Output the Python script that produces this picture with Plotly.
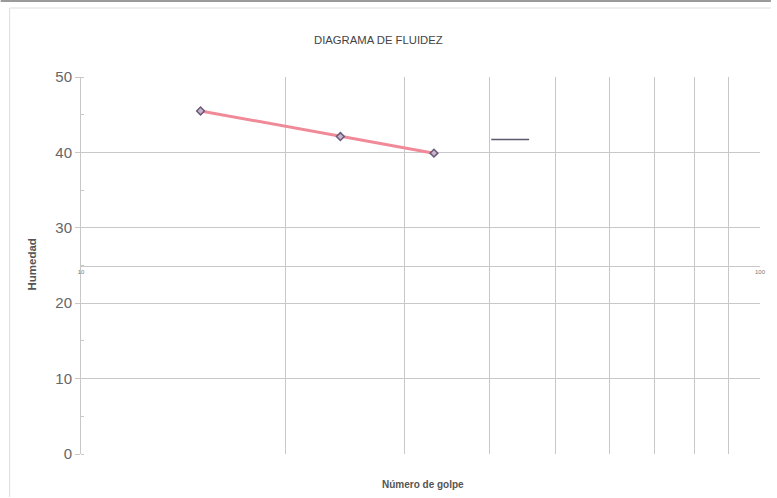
import plotly.graph_objects as go

# Data
golpes = [15.0, 24.1, 33.1]
humedad = [45.5, 42.1, 39.9]
seg_x = [40.2, 45.7]
seg_y = [41.7, 41.7]
x_tickvals = [10, 20, 30, 40, 50, 60, 70, 80, 90, 100]
x_ticktext = ["10", "", "", "", "", "", "", "", "", "100"]
y_tickvals = [0, 10, 20, 30, 40, 50]

FONT = "Liberation Sans, Arial, sans-serif"
GRID = "#c8c8c8"

fig = go.Figure()
fig.add_trace(go.Scatter(
    x=golpes, y=humedad, mode="lines+markers",
    line=dict(color="#f08a98", width=3),
    marker=dict(symbol="diamond", size=6, color="#c8b4cc",
                line=dict(color="#6a5a78", width=1.5)),
    showlegend=False, cliponaxis=False,
))
fig.add_trace(go.Scatter(
    x=seg_x, y=seg_y, mode="lines",
    line=dict(color="#5a5a6e", width=1.5),
    showlegend=False,
))

W, H = 777, 498
L, R, T, B = 81, 11, 77, 44
pw, ph = W - L - R, H - T - B

def px(x):
    return (x - L) / pw

def py(y):
    return (H - B - y) / ph

fig.update_layout(
    width=W, height=H, autosize=False,
    margin=dict(l=L, r=R, t=T, b=B),
    paper_bgcolor="white", plot_bgcolor="white",
    font=dict(family=FONT, color="#555"),
    xaxis=dict(
        type="log", range=[1, 2],
        tickvals=x_tickvals, ticktext=x_ticktext,
        tickfont=dict(size=6, color="#777"),
        showgrid=True, gridcolor=GRID, gridwidth=1,
        showline=True, linecolor=GRID, linewidth=1,
        ticks="", anchor="free", position=0.5,
        zeroline=False,
    ),
    yaxis=dict(
        range=[0, 50], tickvals=y_tickvals,
        tickfont=dict(size=15, color="#666"),
        showgrid=True, gridcolor=GRID, gridwidth=1,
        showline=True, linecolor=GRID, linewidth=1,
        ticks="outside", ticklen=5, tickcolor=GRID,
        minor=dict(ticks="inside", dtick=5, ticklen=3, tickcolor=GRID, showgrid=False),
        zeroline=False,
    ),
    annotations=[
        dict(text="DIAGRAMA DE FLUIDEZ", x=px(381), y=py(32), xref="paper", yref="paper",
             showarrow=False, font=dict(size=11.3, color="#444", family=FONT)),
        dict(text="<b>Humedad</b>", x=px(23), y=py(265), xref="paper", yref="paper",
             showarrow=False, textangle=-90, font=dict(size=11.5, color="#555", family=FONT)),
        dict(text="<b>Número de golpe</b>", x=px(426), y=py(492), xref="paper", yref="paper",
             showarrow=False, font=dict(size=10, color="#555", family=FONT)),
    ],
    shapes=[
        dict(type="line", xref="paper", yref="paper", x0=px(0), x1=px(777), y0=py(1), y1=py(1),
             line=dict(color="#9a9a9a", width=2)),
        dict(type="line", xref="paper", yref="paper", x0=px(9), x1=px(777), y0=py(8), y1=py(8),
             line=dict(color="#dcdcdc", width=1)),
        dict(type="line", xref="paper", yref="paper", x0=px(9), x1=px(9), y0=py(8), y1=py(497),
             line=dict(color="#dcdcdc", width=1)),
    ],
)

fig.write_html("out.html", config={"responsive": False})

with open("out.html", encoding="utf-8") as f:
    html = f.read()
html = html.replace("<head>", "<head><style>html,body{margin:0;padding:0;overflow:hidden}</style>", 1)
with open("out.html", "w", encoding="utf-8") as f:
    f.write(html)
